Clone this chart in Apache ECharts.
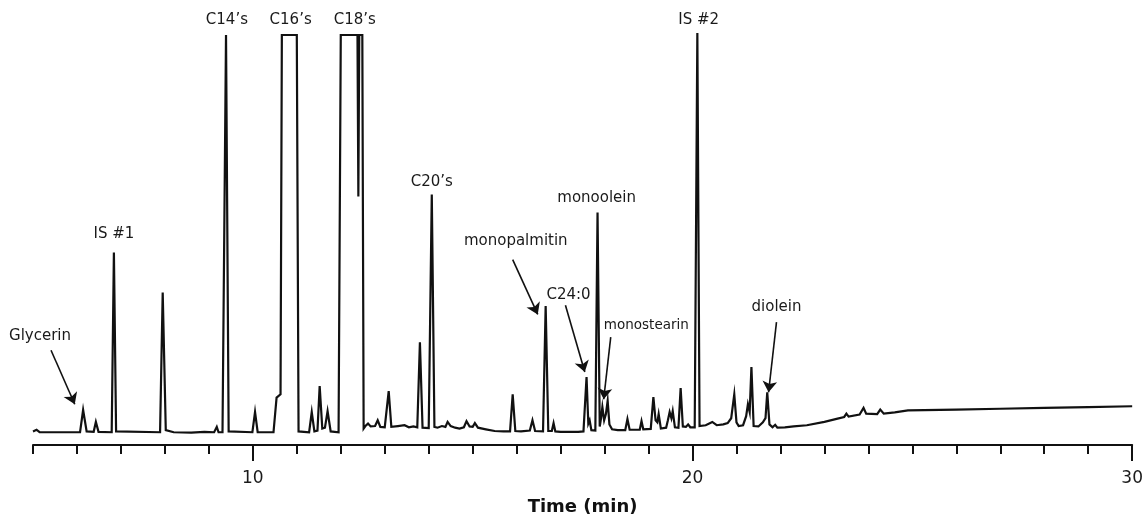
<!DOCTYPE html>
<html>
<head>
<meta charset="utf-8">
<script src="https://cdn.jsdelivr.net/npm/echarts@6/dist/echarts.min.js"></script>
<style>
  html, body { margin: 0; padding: 0; background: #fff; }
  #chart { width: 1146px; height: 521px; }
</style>
</head>
<body>
<div id="chart"></div>
<script>
// Chromatogram trace: retention time (min) and detector signal (relative units)
const retentionTime = [
  5.00, 5.08, 5.15, 6.07, 6.14, 6.22, 6.38, 6.43, 6.49, 6.79, 6.84, 6.89,
  7.89, 7.95, 8.02, 8.20, 8.60, 8.90, 9.12, 9.18, 9.22, 9.31, 9.39, 9.45,
  9.99, 10.05, 10.11, 10.47, 10.54, 10.63, 10.66, 11.00, 11.04,
  11.28, 11.34, 11.40, 11.47, 11.52, 11.58, 11.64, 11.70, 11.77,
  11.95, 12.00, 12.38, 12.40, 12.42, 12.49, 12.52,
  12.56, 12.62, 12.68, 12.78, 12.84, 12.90, 13.00, 13.09, 13.15, 13.30, 13.45, 13.55, 13.65,
  13.74, 13.80, 13.86, 14.00, 14.07, 14.13,
  14.20, 14.30, 14.38, 14.43, 14.50, 14.60, 14.70, 14.80, 14.86, 14.93, 15.00, 15.05, 15.12, 15.30, 15.50, 15.70,
  15.85, 15.91, 15.97, 16.10, 16.30, 16.36, 16.42, 16.60, 16.66, 16.72, 16.80, 16.84, 16.88, 17.00, 17.40,
  17.52, 17.59, 17.63, 17.66, 17.70, 17.79, 17.84, 17.89,
  17.92, 17.95, 17.99, 18.03, 18.07, 18.11, 18.17, 18.30,
  18.47, 18.52, 18.57, 18.80, 18.84, 18.88, 19.05, 19.11, 19.16, 19.20, 19.23, 19.28,
  19.40, 19.44, 19.48, 19.52, 19.55, 19.60, 19.68, 19.73, 19.78, 19.85, 19.90, 19.95, 20.05,
  20.11, 20.16, 20.30, 20.45, 20.55, 20.70, 20.80, 20.88, 20.95, 21.00, 21.05, 21.15,
  21.22, 21.26, 21.30, 21.34, 21.39, 21.50, 21.60, 21.66, 21.70, 21.75, 21.82, 21.88, 21.93, 22.10,
  22.30, 22.60, 23.00, 23.30, 23.45, 23.50, 23.55, 23.80, 23.89, 23.95, 24.20, 24.27, 24.35,
  24.60, 24.90, 26.00, 27.00, 28.00, 29.00, 30.00
];
const detectorSignal = [
  3.3, 3.7, 3.1, 3.1, 8.5, 3.3, 3.2, 5.6, 3.2, 3.1, 46.7, 3.3,
  3.1, 37.0, 3.6, 3.1, 3.0, 3.2, 3.1, 4.4, 3.1, 3.1, 99.5, 3.3,
  3.1, 8.0, 3.1, 3.1, 11.5, 12.3, 99.5, 99.5, 3.3,
  3.1, 8.0, 3.3, 3.5, 14.3, 4.0, 4.2, 8.2, 3.3,
  3.1, 99.5, 99.5, 60.3, 99.5, 99.5, 4.0,
  4.6, 5.2, 4.5, 4.6, 6.0, 4.4, 4.3, 13.1, 4.4, 4.6, 4.8, 4.3, 4.5,
  4.3, 24.9, 4.2, 4.1, 60.8, 4.4,
  4.2, 4.6, 4.4, 5.6, 4.6, 4.2, 4.0, 4.3, 5.8, 4.5, 4.4, 5.3, 4.2, 3.8, 3.4, 3.3,
  3.3, 12.3, 3.4, 3.3, 3.5, 6.0, 3.4, 3.3, 33.7, 3.4, 3.4, 5.3, 3.3, 3.2, 3.2,
  3.3, 16.5, 5.2, 6.0, 3.6, 3.5, 56.4, 4.5,
  6.5, 9.2, 6.0, 7.5, 10.7, 5.0, 3.8, 3.6,
  3.6, 6.3, 3.7, 3.7, 5.8, 3.8, 3.9, 11.6, 6.0, 5.5, 7.5, 4.0,
  4.2, 6.0, 8.0, 6.5, 8.2, 4.3, 4.2, 13.8, 4.5, 4.4, 5.0, 4.3, 4.3,
  100.0, 4.6, 4.8, 5.6, 4.8, 5.0, 5.3, 6.5, 12.3, 5.5, 4.6, 4.8,
  7.0, 9.9, 8.0, 18.9, 4.6, 4.5, 5.5, 6.5, 12.8, 5.0, 4.3, 4.9, 4.2, 4.3,
  4.5, 4.8, 5.6, 6.4, 6.8, 7.6, 6.9, 7.4, 9.0, 7.6, 7.5, 8.6, 7.6,
  7.9, 8.4, 8.6, 8.8, 9.0, 9.2, 9.4
];

// Axis
const xMin = 5, xMax = 30, xStep = 1;
const xLabelValues = [10, 20, 30];
const xTitle = 'Time (min)';

// Peak annotations: [text, labelTime, labelLevel]
const peakNames = ['Glycerin', 'IS #1', 'C14’s', 'C16’s', 'C18’s', 'C20’s',
  'monopalmitin', 'C24:0', 'monoolein', 'monostearin', 'IS #2', 'diolein'];
const peakLabelTime = [5.16, 6.84, 9.41, 10.86, 12.32, 14.07, 15.98, 17.18, 17.82, 18.95, 20.14, 21.91];
const peakLabelLevel = [26.4, 51.1, 103.1, 103.1, 103.1, 63.9, 49.4, 36.3, 59.8, 29.1, 103.1, 33.4];

// Arrows: from [time, level] to [time, level]
const arrowFrom = [[5.41, 23.0], [15.91, 45.0], [17.11, 33.9], [18.14, 26.2], [21.91, 29.8]];
const arrowTo = [[5.95, 9.9], [16.48, 31.7], [17.55, 17.7], [17.98, 11.1], [21.73, 12.8]];

const trace = retentionTime.map((t, i) => [t, detectorSignal[i]]);
const textColor = '#1a1a1a';
const fontFamily = '"DejaVu Sans", Verdana, sans-serif';

const labelPoints = peakNames.map((n, i) => ({
  name: n,
  coord: [peakLabelTime[i], peakLabelLevel[i]],
  label: n === 'monostearin' ? { fontSize: 13.5 } : undefined
}));
const arrowLines = arrowFrom.map((f, i) => [{ coord: f }, { coord: arrowTo[i] }]);

const chart = echarts.init(document.getElementById('chart'));
chart.setOption({
  animation: false,
  backgroundColor: '#fff',
  grid: { left: 33, right: 13, top: 0, bottom: 75 },
  xAxis: [{
    type: 'value', min: xMin, max: xMax, interval: xStep,
    splitLine: { show: false },
    axisLine: { show: true, lineStyle: { color: '#111', width: 2 } },
    axisTick: { show: true, length: 9, lineStyle: { color: '#111', width: 2 } },
    axisLabel: {
      color: textColor, fontSize: 17, fontFamily: fontFamily, margin: 25,
      formatter: v => (xLabelValues.indexOf(v) >= 0 ? String(v) : '')
    },
    name: xTitle, nameLocation: 'middle', nameGap: 53,
    nameTextStyle: { color: '#111', fontSize: 18, fontWeight: 'bold', fontFamily: fontFamily }
  }, {
    type: 'value', min: xMin, max: xMax, position: 'bottom', gridIndex: 0,
    splitLine: { show: false },
    axisLine: { show: false },
    axisLabel: { show: false },
    axisTick: { show: true, length: 16, customValues: xLabelValues, lineStyle: { color: '#111', width: 2 } }
  }],
  yAxis: { type: 'value', min: 0, max: 108, show: false, splitLine: { show: false } },
  series: [{
    type: 'line',
    data: trace,
    showSymbol: false,
    symbol: 'none',
    smooth: false,
    clip: false,
    lineStyle: { color: '#111', width: 2.2, join: 'miter' },
    markPoint: {
      silent: true,
      symbol: 'circle', symbolSize: 1,
      itemStyle: { color: 'rgba(0,0,0,0)' },
      label: {
        show: true, position: 'inside', formatter: '{b}',
        color: textColor, fontSize: 15, fontFamily: fontFamily
      },
      data: labelPoints
    },
    markLine: {
      silent: true,
      symbol: ['none', 'arrow'],
      symbolSize: 11,
      itemStyle: { color: '#111' },
      label: { show: false },
      lineStyle: { color: '#111', width: 1.6, type: 'solid' },
      data: arrowLines
    }
  }]
});
</script>
</body>
</html>
